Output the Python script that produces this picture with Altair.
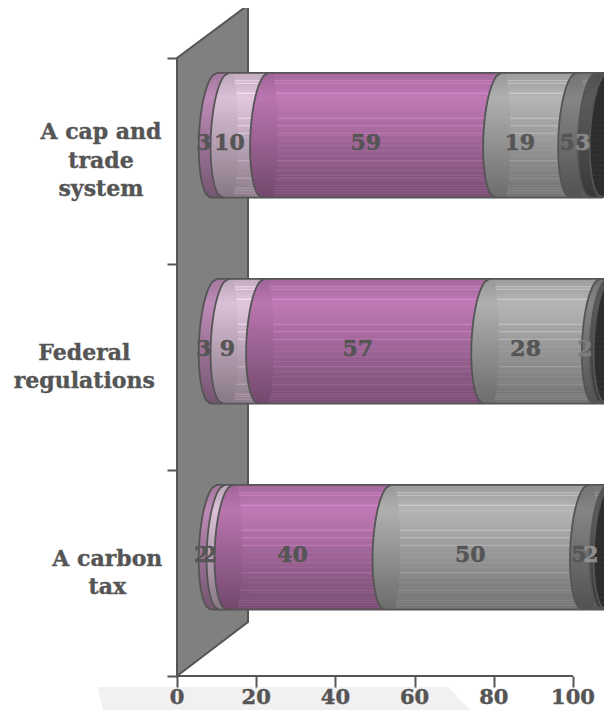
import math
import altair as alt
import pandas as pd

# ---- values ----
row_names = ["A cap and\ntrade\nsystem", "Federal\nregulations", "A carbon\ntax"]
row_lines = [3, 2, 2]
row_slots = [2, 1, 0]                     # axis slot of each row, bottom to top
row_label_x = [-19.2, -23.4, -17.6]       # centre of the row title, in value units
values = [
    [3, 10, 59, 19, 5, 3],
    [3, 9, 57, 28, 2, 1],
    [2, 2, 40, 50, 5, 2],
]
value_labels = [
    ["3", "10", "59", "19", "5", "3"],
    ["3", "9", "57", "28", "2", ""],
    ["2", "2", "40", "50", "5", "2"],
]
label_colors = [
    ["#555555"] * 5 + ["#8a8a8a"],
    ["#555555"] * 4 + ["#7d7d7d", "#8a8a8a"],
    ["#555555"] * 5 + ["#8f8f8f"],
]
segment_colors = ["#c490bd", "#e2c8df", "#c07ab6", "#b6b6b6", "#8a8a8a", "#606060"]
cap_color = "#2d2d2d"
ink = "#555555"
x_ticks = [0, 20, 40, 60, 80, 100]
y_ticks = [0, 1, 2, 3]
stripe_bands = [3, 4, 8, 18, 21, 24, 35, 42, 46, 47, 48]

wall_x = [0, 17.93]
wall_low = [0, 0.262]
wall_high = [3, 3.257]
plate_x = [-20.0, -18.7, 68.4, 74.0]

# ---- scales: value units and slot units ----
x_scale = alt.Scale(domain=[-42.68, 107.83], nice=False, zero=False)
y_scale = alt.Scale(domain=[-0.165, 3.2427], nice=False, zero=False)
PX_X = 3.96
PX_Y = 206.0
plate_top = (676 - 687) / PX_Y
plate_bottom = -0.165
tick_label_y = (676 - 697.5) / PX_Y
line_height = 28.5

# cylinder proportions in axis units
shift_x = 22 / PX_X
shift_y = 0.625
rx = 15 / PX_X
skew = 3 / PX_X
ry = 0.303
zone = 27 / PX_X
N = 50


def edge_x(v, s, side=-1):
    c = math.sqrt(max(0.0, 1 - s * s))
    return v * 3.95 / PX_X + shift_x + rx * (1 + side * c) + skew * s


rects, lines, labels = [], [], []
for r, row in enumerate(values):
    yc = row_slots[r] + shift_y
    cum = [0]
    for v in row:
        cum.append(min(cum[-1] + v, 100))
    for b in range(N):
        t0 = b / N
        t1 = (b + 1.25) / N
        tm = (b + 0.5) / N
        s = 1 - 2 * tm
        f = 0.86 + 0.14 * tm / 0.2 if tm < 0.2 else 1 - 0.38 * (tm - 0.2) / 0.8
        y0 = yc + ry * (1 - 2 * t0)
        y1 = yc + ry * (1 - 2 * min(t1, 1))
        for k in range(6):
            base = segment_colors[k]
            rgb = [int(base[i:i + 2], 16) for i in (1, 3, 5)]

            def col(m):
                return "#%02x%02x%02x" % tuple(min(255, int(c * f * m)) for c in rgb)

            xa = edge_x(cum[k], s)
            xb = edge_x(cum[k + 1], s)
            rects.append(dict(x=xa, x2=xb, y=y0, y2=y1, c=col(1.0)))
            z_end = min(edge_x(cum[k], 0) + zone - 1.2 * abs(s) ** 3, xb)
            if z_end > xa:
                rects.append(dict(x=xa, x2=z_end, y=y0, y2=y1, c=col(0.965)))
            if b in stripe_bands and z_end < xb:
                rects.append(dict(x=z_end, x2=xb, y=y0, y2=y0 - 0.005, c=col(1.18)))
        rects.append(dict(x=edge_x(cum[6], s), x2=edge_x(cum[6], s, 1), y=y0, y2=y1, c=cap_color))
    for k in range(7):
        for i in range(41):
            s = 1 - i / 20
            lines.append(dict(key=f"{r}-{k}", i=i, x=edge_x(cum[k], s), y=yc + ry * s))
    for i in range(41):
        s = 1 - i / 20
        lines.append(dict(key=f"{r}-cap", i=i, x=edge_x(cum[6], s, 1), y=yc + ry * s))
    for j, s in enumerate([1, -1]):
        lines.append(dict(key=f"{r}-e{j}", i=0, x=edge_x(cum[0], s), y=yc + ry * s))
        lines.append(dict(key=f"{r}-e{j}", i=1, x=edge_x(cum[6], s), y=yc + ry * s))
    for k in range(6):
        labels.append(dict(x=edge_x((cum[k] + cum[k + 1]) / 2, 0) - 0.3,
                           y=yc - 0.04, t=value_labels[r][k], c=label_colors[r][k]))

rect_df = pd.DataFrame(rects)
line_df = pd.DataFrame(lines)
label_df = pd.DataFrame(labels)
row_df = pd.DataFrame(dict(
    x=row_label_x,
    y=[s + 0.5 + (n - 1) / 2 * line_height / PX_Y for s, n in zip(row_slots, row_lines)],
    t=row_names,
))
tick_df = pd.DataFrame(dict(x=x_ticks, y=[tick_label_y] * len(x_ticks), t=[str(v) for v in x_ticks]))
wall_df = pd.DataFrame(dict(x=wall_x, y=wall_low, y2=wall_high))
plate_df = pd.DataFrame(dict(
    x=plate_x,
    y=[plate_top, plate_bottom, plate_bottom, plate_bottom],
    y2=[plate_top, plate_top, plate_top, plate_bottom],
))
axis_df = pd.DataFrame(dict(x=[0], x2=[100], y=[0]))

FONT = "DejaVu Serif"

x_enc = alt.X("x:Q", scale=x_scale, axis=alt.Axis(
    values=x_ticks, title=None, labels=False, domain=False, grid=False, orient="bottom",
    offset=-34, tickColor=ink, tickWidth=2, tickSize=11, zindex=1))
y_enc = alt.Y("y:Q", scale=y_scale, axis=alt.Axis(
    values=y_ticks, title=None, labels=False, domain=False, grid=False,
    orient="left", offset=-169, tickColor=ink, tickWidth=2, tickSize=10, zindex=1))

plate = alt.Chart(plate_df).mark_area(color="#f1f1f1", interpolate="linear").encode(
    x=x_enc, y=y_enc, y2="y2:Q",
)
wall = alt.Chart(wall_df).mark_area(color="#808080", stroke=ink, strokeWidth=2).encode(
    x=x_enc, y=y_enc, y2="y2:Q",
)
bands = alt.Chart(rect_df).mark_rect().encode(
    x=x_enc, x2="x2:Q", y=y_enc, y2="y2:Q",
    color=alt.Color("c:N", scale=None),
)
edges = alt.Chart(line_df).mark_line(color=ink, strokeWidth=1.8).encode(
    x=x_enc, y=y_enc, detail="key:N", order="i:Q",
)
base_line = alt.Chart(axis_df).mark_rule(color=ink, strokeWidth=2).encode(
    x=x_enc, x2="x2:Q", y=y_enc,
)
value_text = alt.Chart(label_df).mark_text(
    font=FONT, fontWeight="bold", fontSize=22, align="center", baseline="middle",
).encode(
    x=x_enc, y=y_enc, text="t:N",
    color=alt.Color("c:N", scale=None),
    stroke=alt.Stroke("c:N", scale=None),
    strokeWidth=alt.value(0.5),
)
row_text = alt.Chart(row_df).mark_text(
    font=FONT, fontWeight="bold", fontSize=22, align="center", baseline="middle",
    lineBreak="\n", lineHeight=line_height, color=ink, stroke=ink, strokeWidth=0.4,
).encode(
    x=x_enc, y=y_enc, text="t:N",
)
tick_text = alt.Chart(tick_df).mark_text(
    font=FONT, fontWeight="bold", fontSize=21, align="center", baseline="middle",
    color=ink, stroke=ink, strokeWidth=0.5,
).encode(
    x=x_enc, y=y_enc, text="t:N",
)

chart = alt.layer(plate, wall, base_line, bands, edges, value_text, row_text, tick_text).properties(
    width=596, height=702, padding=0,
    autosize=alt.AutoSizeParams(type="none"), background="white",
).configure_view(strokeWidth=0)

chart.save("out.html", embed_options={"renderer": "svg", "actions": False})
